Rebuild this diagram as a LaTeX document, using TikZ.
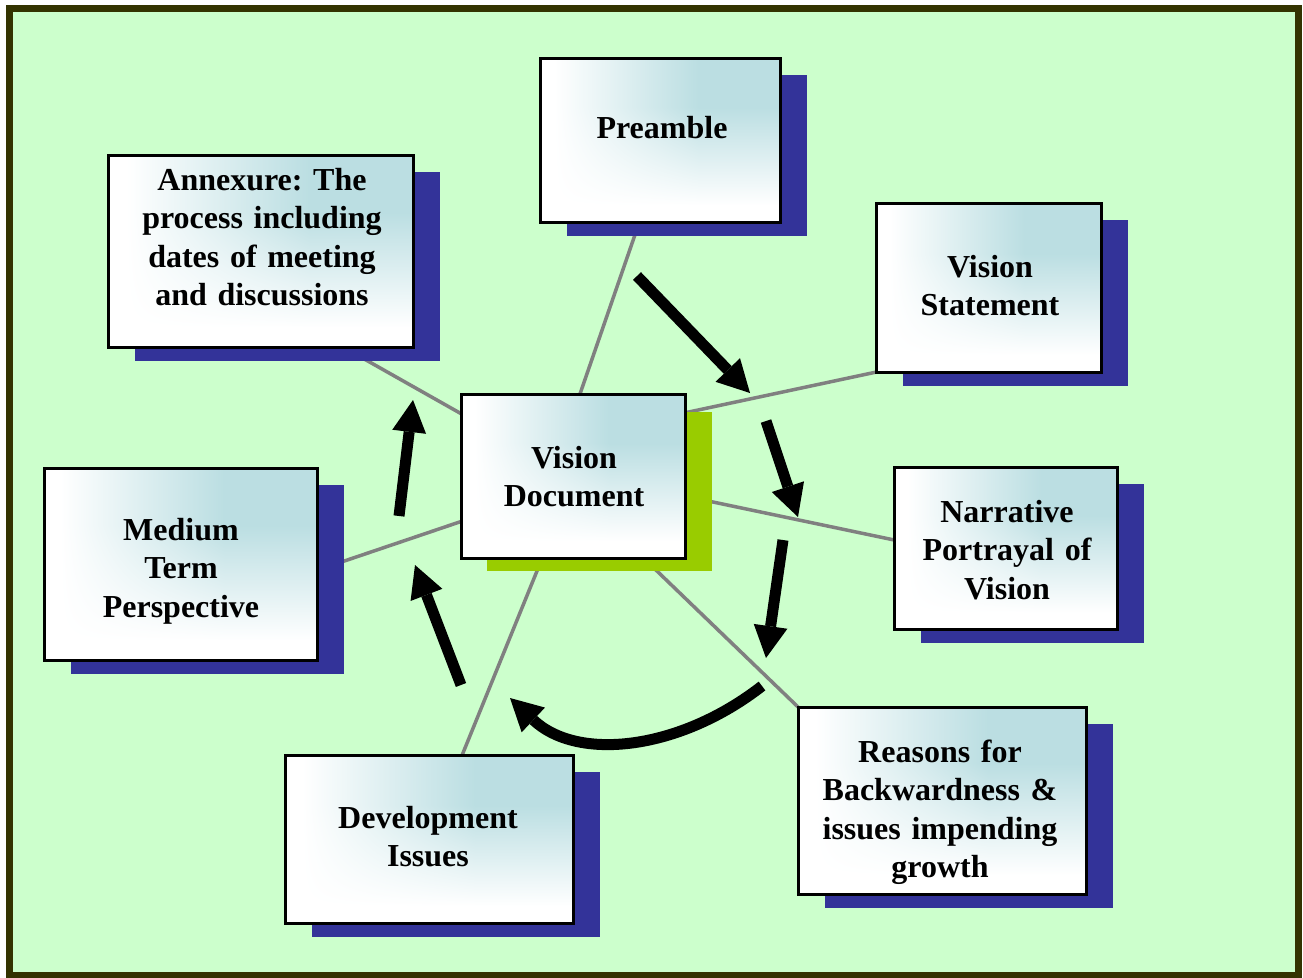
\documentclass[tikz,border=0pt]{standalone}
\usepackage{fontspec}
\setmainfont{Liberation Serif}
\usetikzlibrary{arrows.meta,calc,shadings}
\definecolor{bggreen}{HTML}{CCFFCC}
\definecolor{framec}{HTML}{333300}
\definecolor{navyc}{HTML}{333399}
\definecolor{limec}{HTML}{99CC00}
\definecolor{linec}{HTML}{808080}
\pgfdeclarefunctionalshading{boxshade}{\pgfpoint{0bp}{0bp}}{\pgfpoint{100bp}{100bp}}{}{
 30 sub 30 div dup 1 gt {pop 1} if dup 0 lt {pop 0} if
 exch 28 sub 30 div dup 1 gt {pop 1} if dup 0 lt {pop 0} if
 mul
 dup 0.267 mul 1 exch sub
 exch dup 0.129 mul 1 exch sub
 exch 0.114 mul 1 exch sub
}
\pgfdeclarelayer{bgfill}
\pgfdeclarelayer{lines}
\pgfdeclarelayer{shadows}
\pgfsetlayers{bgfill,lines,shadows,main}
\tikzset{
  box/.style={draw=black, line width=3pt, inner sep=0pt, outer sep=0pt,
    shade, shading=boxshade},
  lbl/.style={font=\fontsize{32}{38.5}\selectfont\bfseries, align=center,
    text width=300pt, anchor=base, inner sep=0pt},
  conn/.style={draw=linec, line width=3.5pt},
  flow/.style={line width=11pt, -{Triangle[length=32pt,width=34pt,line width=0pt]}},
}
\begin{document}
\begin{tikzpicture}[x=1pt,y=-1pt]
\useasboundingbox (0,0) rectangle (1303,977);

% boxes
\node[box, minimum width=240pt, minimum height=164pt] (pre)   at (660,140) {};
\node[box, minimum width=305pt, minimum height=192pt] (annex) at (260.5,251) {};
\node[box, minimum width=225pt, minimum height=169pt] (vs)    at (988.5,287.5) {};
\node[box, minimum width=223pt, minimum height=162pt] (narr)  at (1005.5,548) {};
\node[box, minimum width=224pt, minimum height=164pt] (vd)    at (573,476) {};
\node[box, minimum width=273pt, minimum height=192pt] (med)   at (180.5,564) {};
\node[box, minimum width=288pt, minimum height=168pt] (dev)   at (429,839) {};
\node[box, minimum width=288pt, minimum height=187pt] (reas)  at (942,800.5) {};

% texts
\node[lbl] (tpre)   at (662,138) {Preamble};
\node[lbl] (tannex) at (262,190) {Annexure:\ The\\process including\\dates of meeting\\and discussions};
\node[lbl] (tvs)    at (990,277) {Vision\\Statement};
\node[lbl] (tnarr)  at (1007,522) {Narrative\\Portrayal of\\Vision};
\node[lbl] (tvd)    at (574,468) {Vision\\Document};
\node[lbl] (tmed)   at (181,540) {Medium\\Term\\Perspective};
\node[lbl] (tdev)   at (428,828) {Development\\Issues};
\node[lbl] (treas)  at (940,762) {Reasons for\\Backwardness \&\\issues impending\\growth};

\begin{pgfonlayer}{bgfill}
  \fill[white] (0,0) rectangle (1303,977);
  \draw[line width=7pt, draw=framec, fill=bggreen] (9,8.5) rectangle (1298,975.5);
\end{pgfonlayer}

\begin{pgfonlayer}{shadows}
  \foreach \n in {pre,annex,vs,narr,med,dev,reas}
    \fill[navyc] ([shift={(27,17)}]\n.north west) rectangle ([shift={(27,14)}]\n.south east);
  \fill[limec] ([shift={(26,18)}]vd.north west) rectangle ([shift={(27,13)}]vd.south east);
\end{pgfonlayer}

\begin{pgfonlayer}{lines}
  \draw[conn] ($(vd.center)+(-2,-56)$) -- ($(pre.center)+(-13,60)$);
  \draw[conn] ($(vd.center)+(-83,-46)$) -- ($(annex.center)+(59.5,83)$);
  \draw[conn] ($(vd.center)+(97,-60)$) -- ($(vs.center)+(-88.5,79.5)$);
  \draw[conn] ($(vd.center)+(97,17)$) -- ($(narr.center)+(-85.5,-2.6)$);
  \draw[conn] ($(vd.center)+(57,69)$) -- ($(reas.center)+(-122,-72.3)$);
  \draw[conn] ($(vd.center)+(-23.4,64)$) -- ($(dev.center)+(23,-59)$);
  \draw[conn] ($(vd.center)+(-83,35.7)$) -- ($(med.center)+(119.5,12)$);
\end{pgfonlayer}

% cycle arrows
\coordinate (a1s) at (637,276);  \coordinate (a1e) at (750,393);
\coordinate (a2s) at (766,421);  \coordinate (a2e) at (798,517);
\coordinate (a3s) at (783,540);  \coordinate (a3e) at (766,658);
\coordinate (a4s) at (762,686);  \coordinate (a4e) at (510,698);
\coordinate (a5s) at (461,685);  \coordinate (a5e) at (415,565);
\coordinate (a6s) at (399,516);  \coordinate (a6e) at (413,400);
\draw[flow] (a1s) -- (a1e);
\draw[flow] (a2s) -- (a2e);
\draw[flow] (a3s) -- (a3e);
\draw[flow] (a4s) .. controls (680,750) and (578,762) .. (a4e);
\draw[flow] (a5s) -- (a5e);
\draw[flow] (a6s) -- (a6e);
\end{tikzpicture}
\end{document}
